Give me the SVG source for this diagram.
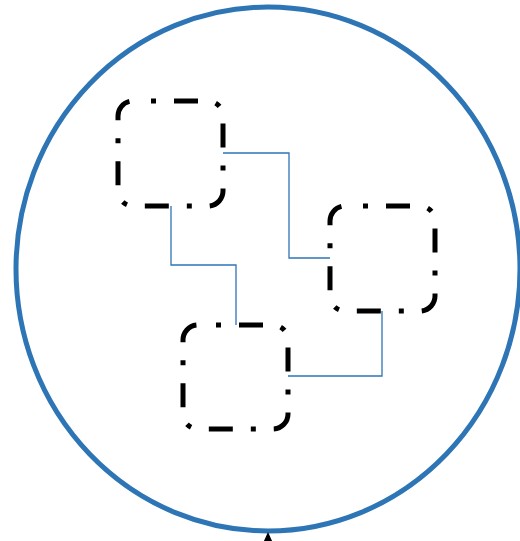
<svg xmlns="http://www.w3.org/2000/svg" width="520" height="541" viewBox="0 0 520 541">
<style>
.box{fill:none;stroke:#000;stroke-width:5;stroke-dasharray:24 18 5 18;stroke-dashoffset:24}
.conn{fill:none;stroke:#2e75b6;stroke-width:1.3}
</style>
<rect width="520" height="541" fill="#fff"/>
<g id="outer"><ellipse cx="268" cy="269" rx="252" ry="262" fill="none" stroke="#2e75b6" stroke-width="5"/></g>
<g id="connectors">
<polyline class="conn" points="223,153 289,153 289,258 330,258"/>
<polyline class="conn" points="171,206 171,265 236,265 236,325"/>
<polyline class="conn" points="382,311 382,376 288,376"/>
<polygon points="268,532 263.5,542 272.5,542" fill="#000"/>
</g>
<g id="node1"><rect class="box" x="118" y="101" width="105" height="105" rx="15"/></g>
<g id="node2"><rect class="box" x="330" y="206" width="105" height="105" rx="15"/></g>
<g id="node3"><rect class="box" x="183" y="325" width="105" height="104" rx="15"/></g>
</svg>
